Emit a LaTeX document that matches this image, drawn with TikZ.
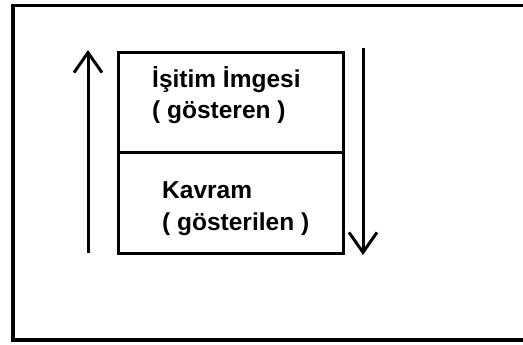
\documentclass[tikz,border=0pt]{standalone}
\usepackage{fontspec}
\setmainfont{Liberation Sans}
\usetikzlibrary{arrows.meta}
\begin{document}
\begin{tikzpicture}[x=1pt,y=-1pt,
  frame/.style={line width=3.5pt},
  cell/.style={draw,line width=3.3pt,minimum width=225pt,inner sep=0pt,anchor=north west},
  lbl/.style={font=\fontsize{24.5}{29}\selectfont\bfseries,inner sep=0pt,anchor=base west},
  arr/.style={line width=3pt,-{Straight Barb[length=20pt,width=28pt,line width=3pt]}}]
\useasboundingbox (0,0) rectangle (523,345);
\clip (0,0) rectangle (523,345);
\fill[white] (0,0) rectangle (523,345);
\draw[frame] (560,5.5) -- (13,5.5) -- (13,340) -- (560,340);
\node[cell,minimum height=100pt] (top) at (117,51) {};
\node[cell,minimum height=101pt] (bot) at (117,151) {};
\node[lbl] (t1) at (152,88) {İşitim İmgesi};
\node[lbl] (t2) at (152,119) {( gösteren )};
\node[lbl] (b1) at (162,198) {Kavram};
\node[lbl] (b2) at (162,230) {( gösterilen )};
\coordinate (ua) at (88,253);
\coordinate (ub) at (88,50);
\coordinate (da) at (363,48);
\coordinate (db) at (363,255);
\draw[arr] (ua) -- (ub);
\draw[arr] (da) -- (db);
\end{tikzpicture}
\end{document}
